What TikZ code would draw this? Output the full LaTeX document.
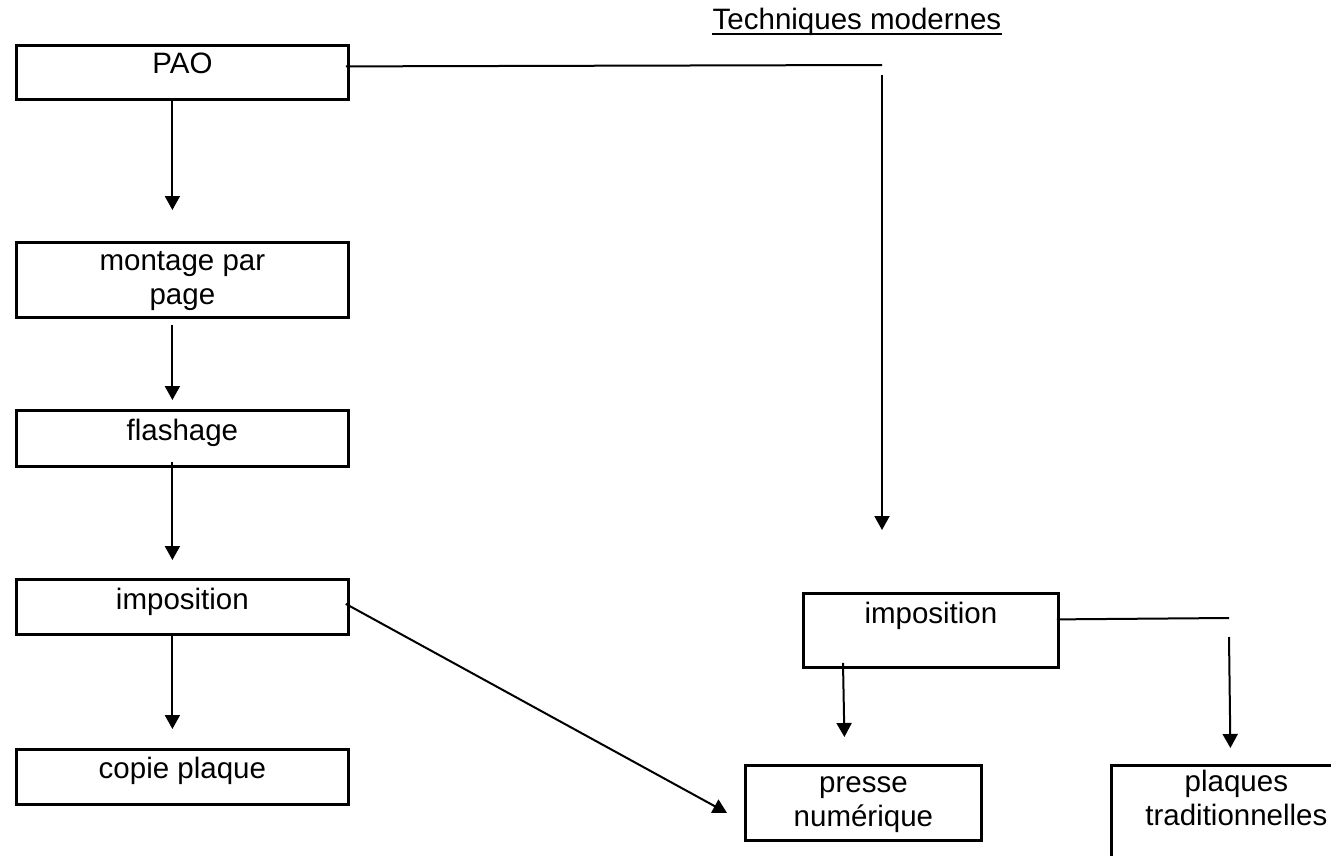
\documentclass[tikz,border=0pt]{standalone}
\usepackage{fontspec}
\setmainfont{Liberation Sans}
\usetikzlibrary{arrows.meta}

\tikzset{
  box/.style={draw, line width=2.8pt, anchor=north west, inner sep=0pt},
  txt/.style={font=\fontsize{29.5}{34}\selectfont, anchor=base, inner sep=0pt, align=center},
  link/.style={line width=2pt},
  arr/.style={link, -{Triangle[width=15pt,length=14pt]}}
}

\begin{document}
\begin{tikzpicture}[x=1pt,y=-1pt]
\useasboundingbox (0,0) rectangle (1331,856);

% left column
\node [box, minimum width=332pt, minimum height=54pt] (pao) at (15,44) {};
\node [box, minimum width=332pt, minimum height=75pt] (montage) at (15,241) {};
\node [box, minimum width=332pt, minimum height=56pt] (flash) at (15,409) {};
\node [box, minimum width=332pt, minimum height=55pt] (impoL) at (15,578) {};
\node [box, minimum width=332pt, minimum height=55pt] (copie) at (15,748) {};

\node [txt] (paot) at ([yshift=-30pt]pao.north) {PAO};
\node [txt] (montaget) at ([yshift=-63pt]montage.north) {montage par\\page};
\node [txt] (flasht) at ([yshift=-31pt]flash.north) {flashage};
\node [txt] (impoLt) at ([yshift=-31pt]impoL.north) {imposition};
\node [txt] (copiet) at ([yshift=-30pt]copie.north) {copie plaque};

% right part
\node [txt] (title) at (857,30) {Techniques modernes};
\draw [line width=1.6pt] ([yshift=-4pt]title.base west) -- ([yshift=-4pt]title.base east);

\node [box, minimum width=255pt, minimum height=74pt] (impoR) at (802,592) {};
\node [box, minimum width=236pt, minimum height=75pt] (presse) at (744,764) {};
\node [box, minimum width=250pt, minimum height=150pt] (plaques) at (1110,764) {};

\node [txt] (impoRt) at ([yshift=-31pt]impoR.north) {imposition};
\node [txt] (presset) at ([yshift=-62pt]presse.north) {presse\\numérique};
\node [txt] (plaquest) at ([yshift=-61pt]plaques.north) {plaques\\traditionnelles};

% connectors
\draw [arr] ([xshift=-10pt,yshift=1pt]pao.south) -- ([xshift=-10pt,yshift=31pt]montage.north);
\draw [arr] ([xshift=-10pt,yshift=-6pt]montage.south) -- ([xshift=-10pt,yshift=9pt]flash.north);
\draw [arr] ([xshift=-10pt,yshift=6pt]flash.south) -- ([xshift=-10pt,yshift=18pt]impoL.north);
\draw [arr] ([xshift=-10pt,yshift=3pt]impoL.south) -- ([xshift=-10pt,yshift=19pt]copie.north);
\draw [arr] ([xshift=-4pt,yshift=3pt]impoL.east) -- ([xshift=-17pt,yshift=-10pt]presse.west);

\coordinate (pc) at (882,65);
\coordinate (pcend) at (882,530);
\draw [link] ([xshift=-4pt,yshift=6pt]pao.east) -- (pc);
\draw [arr] ([yshift=-10pt]pc) -- (pcend);

\coordinate (ic) at (1229,618);
\draw [link] ([xshift=-3pt,yshift=11pt]impoR.east) -- (ic);
\draw [arr] ([yshift=-19pt]ic) -- ([xshift=-6pt,yshift=16pt]plaques.north);
\draw [arr] ([xshift=41pt,yshift=6pt]impoR.south west) -- ([xshift=-19pt,yshift=27pt]presse.north);

\end{tikzpicture}
\end{document}
